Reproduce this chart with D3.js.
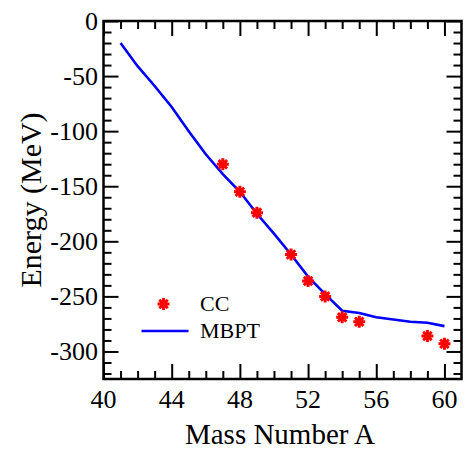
<!DOCTYPE html>
<html>
<head>
<meta charset="utf-8">
<script src="https://cdn.jsdelivr.net/npm/d3@7"></script>
<style>
    html, body { margin: 0; padding: 0; background: #fff; }
</style>
</head>
<body>
<svg id="chart" width="467" height="451"></svg>
<script>
"use strict";

// MBPT curve, A = 41..60
const mbptA = [41, 42, 43, 44, 45, 46, 47, 48, 49, 50, 51, 52, 53, 54, 55, 56, 57, 58, 59, 60];
const mbptE = [-20, -41, -59, -78, -100, -121, -139, -155, -175, -193, -212, -232, -248, -263, -265, -269, -271, -273, -274, -277];

// CC points
const ccA = [47, 48, 49, 51, 52, 53, 54, 55, 59, 60];
const ccE = [-130, -155, -174, -212, -236, -250, -269, -273, -286, -293];

const xTicks = [40, 44, 48, 52, 56, 60];
const yTicks = [0, -50, -100, -150, -200, -250, -300];

const FONT = "'Liberation Serif'";

const svg = d3.select("#chart");
const plotLeft = 103.5, plotRight = 461.5, plotTop = 21, plotBottom = 379;

const x = d3.scaleLinear().domain([40, 61]).range([plotLeft, plotRight]);
const y = d3.scaleLinear().domain([-325, 0]).range([plotBottom, plotTop]);

const xMinor = d3.range(41, 61).filter(v => v % 4 !== 0);
const yMinor = d3.range(-320, 0, 10).filter(v => v % 50 !== 0);

// ticks on all four sides, pointing inward
function tickAxis(axisFn, scale, values, size) {
    return axisFn(scale).tickValues(values).tickSizeInner(-size).tickSizeOuter(0).tickFormat("");
}

const axes = [
    {fn: d3.axisBottom, s: x, t: `translate(0,${plotBottom})`, major: xTicks, minor: xMinor},
    {fn: d3.axisTop, s: x, t: `translate(0,${plotTop})`, major: xTicks, minor: xMinor},
    {fn: d3.axisLeft, s: y, t: `translate(${plotLeft},0)`, major: yTicks, minor: yMinor},
    {fn: d3.axisRight, s: y, t: `translate(${plotRight},0)`, major: yTicks, minor: yMinor}
];
axes.forEach(a => {
    svg.append("g").attr("transform", a.t).call(tickAxis(a.fn, a.s, a.major, 15))
        .call(g => g.select(".domain").remove())
        .selectAll("line").attr("stroke", "#000").attr("stroke-width", 2);
    svg.append("g").attr("transform", a.t).call(tickAxis(a.fn, a.s, a.minor, 8))
        .call(g => g.select(".domain").remove())
        .selectAll("line").attr("stroke", "#000").attr("stroke-width", 2);
});

svg.append("rect")
    .attr("x", plotLeft).attr("y", plotTop)
    .attr("width", plotRight - plotLeft).attr("height", plotBottom - plotTop)
    .attr("fill", "none").attr("stroke", "#000").attr("stroke-width", 2.5);

// tick labels
svg.append("g").selectAll("text").data(xTicks).join("text")
    .style("font-family", FONT)
    .attr("x", d => x(d)).attr("y", 408)
    .attr("text-anchor", "middle").attr("font-size", 26)
    .text(d => d);
svg.append("g").selectAll("text").data(yTicks).join("text")
    .style("font-family", FONT)
    .attr("x", 98).attr("y", d => y(d) + 9)
    .attr("text-anchor", "end").attr("font-size", 26)
    .text(d => d);

// axis titles
svg.append("text")
    .style("font-family", FONT)
    .attr("x", 280).attr("y", 444)
    .attr("text-anchor", "middle").attr("font-size", 29)
    .text("Mass Number A");
svg.append("text")
    .style("font-family", FONT)
    .attr("transform", `translate(41,${(plotTop + plotBottom) / 2}) rotate(-90)`)
    .attr("text-anchor", "middle").attr("font-size", 30)
    .text("Energy (MeV)");

// MBPT line
const line = d3.line().x((d, i) => x(mbptA[i])).y(d => y(d));
svg.append("path")
    .datum(mbptE)
    .attr("d", line)
    .attr("fill", "none").attr("stroke", "#0000ff").attr("stroke-width", 2.6);

// 8-armed star symbol
const starSymbol = {
    draw(ctx, size) {
        const r = Math.sqrt(size) / 2;
        const d = r * Math.SQRT1_2;
        ctx.moveTo(-r, 0); ctx.lineTo(r, 0);
        ctx.moveTo(0, -r); ctx.lineTo(0, r);
        ctx.moveTo(-d, -d); ctx.lineTo(d, d);
        ctx.moveTo(-d, d); ctx.lineTo(d, -d);
    }
};
const star = d3.symbol().type(starSymbol).size(144);

svg.append("g").selectAll("path").data(ccE).join("path")
    .attr("transform", (d, i) => `translate(${x(ccA[i])},${y(d)})`)
    .attr("d", star)
    .attr("fill", "none").attr("stroke", "#ff0000").attr("stroke-width", 3);

// legend
svg.append("path")
    .attr("transform", "translate(163.5,304)")
    .attr("d", star)
    .attr("fill", "none").attr("stroke", "#ff0000").attr("stroke-width", 3);
svg.append("text").style("font-family", FONT)
    .attr("x", 200).attr("y", 311).attr("font-size", 22).text("CC");
svg.append("line")
    .attr("x1", 141.5).attr("x2", 188.5).attr("y1", 331).attr("y2", 331)
    .attr("stroke", "#0000ff").attr("stroke-width", 2.6);
svg.append("text").style("font-family", FONT)
    .attr("x", 200).attr("y", 338).attr("font-size", 22).text("MBPT");
</script>
</body>
</html>
